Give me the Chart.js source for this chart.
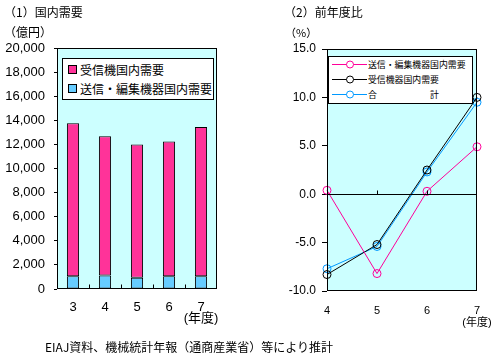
<!DOCTYPE html>
<html><head><meta charset="utf-8">
<script src="https://cdn.jsdelivr.net/npm/chart.js@4"></script>
<style>
body{margin:0;background:#fff;width:499px;height:354px;overflow:hidden;position:relative;font-family:'Noto Sans CJK JP',sans-serif;color:#000}
.t{position:absolute;white-space:pre;font-size:12px;line-height:12px}
canvas{position:absolute}
.lg{position:absolute;background:#fff;border:1px solid #000;box-sizing:border-box}
.row{position:absolute;left:0;display:flex;align-items:center;white-space:pre}
</style></head><body>
<canvas id="c1" width="250" height="354" style="left:0;top:0;width:250px;height:354px"></canvas>
<canvas id="c2" width="249" height="354" style="left:250px;top:0;width:249px;height:354px"></canvas>
<div class="t" style="left:4px;top:6px">（1）国内需要</div>
<div class="t" style="left:4px;top:26px">（億円）</div>
<div class="t" style="left:284px;top:6px">（2）前年度比</div>
<div class="t" style="left:285px;top:26px;font-size:11px">（%）</div>
<div class="t" style="left:45px;top:341px">EIAJ資料、機械統計年報（通商産業省）等により推計</div>
<div id="lg1" class="lg" style="left:62px;top:58px;width:152px;height:42px"></div>
<div id="lg2" class="lg" style="left:328px;top:56px;width:145px;height:48px"></div>
<script>
// ---- data: (1) domestic demand (100 million yen) ----
const yearsA = ['3', '4', '5', '6', '7'];
const receiverDemand = [12700, 11540, 11060, 11200, 12390];   // 受信機国内需要
const senderDemand = [1050, 1130, 940, 1050, 1050];           // 送信・編集機器国内需要
const nameReceiverA = '受信機国内需要';
const nameSenderA = '送信・編集機器国内需要';
const ticksA = [0, 2000, 4000, 6000, 8000, 10000, 12000, 14000, 16000, 18000, 20000];

// ---- data: (2) year-on-year change (%) ----
const yearsB = ['4', '5', '6', '7'];
const senderYoY = [0.4, -8.2, 0.3, 4.9];     // 送信・編集機器国内需要
const receiverYoY = [-8.3, -5.2, 2.5, 10.0]; // 受信機器国内需要
const totalYoY = [-7.7, -5.4, 2.3, 9.5];     // 合計
const nameSenderB = '送信・編集機器国内需要';
const nameReceiverB = '受信機器国内需要';
const nameTotalB = '合　　　　　　計';
const ticksB = [-10, -5, 0, 5, 10, 15];
const unitLabel = '(年度)';

const PINK = '#FF3399', SKY = '#66CCFF', BG = '#CCFFFF';
const MAG = '#FF0099', BLK = '#000000', BLUE = '#0099FF';
const FONT = "'Liberation Sans','Noto Sans CJK JP',sans-serif";

const frame = {
  id: 'frame',
  beforeDraw(chart) {
    const a = chart.chartArea, c = chart.ctx;
    c.save(); c.fillStyle = BG;
    c.fillRect(a.left, a.top, a.right - a.left, a.bottom - a.top);
    c.restore();
  },
  afterDatasetsDraw(chart, args, opts) {
    const a = chart.chartArea, c = chart.ctx;
    const L = Math.round(a.left) + 0.5, R = Math.round(a.right) - 0.5, T = Math.round(a.top) + 0.5, B = Math.round(a.bottom) - 0.5;
    c.save();
    c.strokeStyle = '#000'; c.lineWidth = 1;
    c.strokeRect(L, T, R - L, B - T);
    const xs = chart.scales.x, ys = chart.scales.y;
    if (opts.mode === 'bar') {
      const n = chart.data.labels.length;
      for (let i = 1; i < n; i++) {
        const x = Math.round((xs.getPixelForValue(i - 1) + xs.getPixelForValue(i)) / 2) + 0.5;
        c.beginPath(); c.moveTo(x, B); c.lineTo(x, B - 4); c.stroke();
      }
    } else {
      const y0 = Math.round(ys.getPixelForValue(0)) + 0.5;
      c.beginPath(); c.moveTo(L, y0); c.lineTo(R, y0); c.stroke();
      const n = chart.data.labels.length;
      for (let i = 1; i < n - 1; i++) {
        const x = Math.round(xs.getPixelForValue(i)) + 0.5;
        c.beginPath(); c.moveTo(x, y0); c.lineTo(x, y0 - 4); c.stroke();
      }
    }
    c.restore();
  }
};

Chart.defaults.font.family = FONT;
Chart.defaults.color = '#000';

const labelsA = yearsA.map((y, i) => i === yearsA.length - 1 ? [y, unitLabel] : y);
new Chart(document.getElementById('c1'), {
  type: 'bar',
  data: {
    labels: labelsA,
    datasets: [
      { label: nameSenderA, data: senderDemand, backgroundColor: SKY, borderColor: '#000', borderWidth: 1, borderSkipped: false },
      { label: nameReceiverA, data: receiverDemand, backgroundColor: PINK, borderColor: '#000', borderWidth: 1, borderSkipped: false }
    ]
  },
  options: {
    responsive: false, animation: false,
    layout: { padding: { top: 48, right: 33, left: 0, bottom: 0 } },
    datasets: { bar: { categoryPercentage: 1, barPercentage: 0.38 } },
    plugins: { legend: { display: false }, tooltip: { enabled: false }, frame: { mode: 'bar' } },
    scales: {
      x: {
        stacked: true, offset: true,
        grid: { display: false, drawTicks: false }, border: { display: false },
        ticks: { font: { size: 13, lineHeight: '11px' }, padding: 13, maxRotation: 0, autoSkip: false },
        afterFit(s) { s.height = 65; s.paddingLeft = 0; s.paddingRight = 0; }
      },
      y: {
        stacked: true, min: 0, max: 20000,
        afterBuildTicks(s) { s.ticks = ticksA.map(v => ({ value: v })); },
        grid: { display: true, drawOnChartArea: false, tickLength: 3, color: '#000' },
        border: { display: false },
        ticks: { font: { size: 13 }, padding: 9, callback: v => v.toLocaleString('en-US') },
        afterFit(s) { s.width = 57; s.paddingTop = 0; s.paddingBottom = 0; }
      }
    }
  },
  plugins: [frame]
});

const labelsB = yearsB.map((y, i) => i === yearsB.length - 1 ? [y, unitLabel] : y);
const lineDs = (label, data, color) => ({
  label, data, borderColor: color, borderWidth: 1, backgroundColor: 'rgba(0,0,0,0)',
  pointRadius: 4, pointBorderColor: color, pointBackgroundColor: 'rgba(0,0,0,0)', pointBorderWidth: 1,
  tension: 0, clip: false
});
new Chart(document.getElementById('c2'), {
  type: 'line',
  data: {
    labels: labelsB,
    datasets: [
      lineDs(nameSenderB, senderYoY, MAG),
      lineDs(nameReceiverB, receiverYoY, BLK),
      lineDs(nameTotalB, totalYoY, BLUE)
    ]
  },
  options: {
    responsive: false, animation: false,
    layout: { padding: { top: 49, right: 22, left: 0, bottom: 0 } },
    plugins: { legend: { display: false }, tooltip: { enabled: false }, frame: { mode: 'line' } },
    scales: {
      x: {
        offset: false,
        grid: { display: false, drawTicks: false }, border: { display: false },
        ticks: { font: { size: 11, lineHeight: '12px' }, padding: 14, maxRotation: 0, autoSkip: false },
        afterFit(s) { s.height = 63; s.paddingLeft = 0; s.paddingRight = 0; }
      },
      y: {
        min: -10, max: 15,
        afterBuildTicks(s) { s.ticks = ticksB.map(v => ({ value: v })); },
        grid: { display: true, drawOnChartArea: false, tickLength: 5, color: '#000' },
        border: { display: false },
        ticks: { font: { size: 12 }, padding: 6, callback: v => v.toFixed(1) },
        afterFit(s) { s.width = 77; s.paddingTop = 0; s.paddingBottom = 0; }
      }
    }
  },
  plugins: [frame]
});

// legends built from the series names/colours
const lg1 = document.getElementById('lg1');
[[nameReceiverA, PINK, 10], [nameSenderA, SKY, 29]].forEach(([n, col, top]) => {
  const r = document.createElement('div'); r.className = 'row';
  r.style.cssText = `left:5px;top:${top-7}px;height:14px;font-size:12px;`;
  r.innerHTML = `<span style="display:inline-block;width:7px;height:7px;border:1px solid #000;background:${col};margin-right:3px"></span>${n}`;
  lg1.appendChild(r);
});
const lg2 = document.getElementById('lg2');
[[nameSenderB, MAG, 7], [nameReceiverB, BLK, 22], [nameTotalB, BLUE, 37]].forEach(([n, col, top]) => {
  const r = document.createElement('div'); r.className = 'row';
  r.style.cssText = `left:3px;top:${top-7}px;height:14px;font-size:8.9px;`;
  r.innerHTML = `<svg width="36" height="14" style="margin-right:0"><line x1="0" y1="7.5" x2="35" y2="7.5" stroke="${col}" stroke-width="1"/><circle cx="18" cy="7.5" r="3.5" fill="#fff" stroke="${col}" stroke-width="1"/></svg>${n}`;
  lg2.appendChild(r);
});
</script>
</body></html>
